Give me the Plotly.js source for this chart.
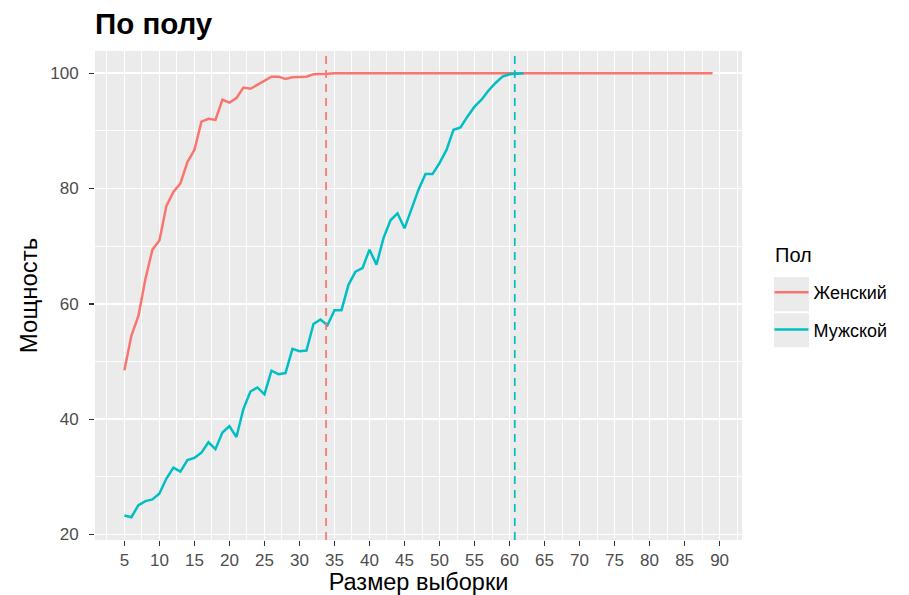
<!DOCTYPE html>
<html>
<head>
<meta charset="utf-8">
<script src="https://cdn.plot.ly/plotly-3.0.1.min.js"></script>
<style>html,body{margin:0;padding:0;background:#fff;}#chart{width:909px;height:595px;}</style>
</head>
<body>
<div id="chart"></div>
<script>
// Sample sizes and power (%) by sex
const femaleX = [5,6,7,8,9,10,11,12,13,14,15,16,17,18,19,20,21,22,23,24,25,26,27,28,29,30,31,32,33,34,35,36,37,38,39,40,41,42,43,44,45,46,47,48,49,50,51,52,53,54,55,56,57,58,59,60,61,62,63,64,65,66,67,68,69,70,71,72,73,74,75,76,77,78,79,80,81,82,83,84,85,86,87,88,89];
const femalePower = [48.5,54.5,57.9,64.3,69.4,71.0,77.0,79.4,80.9,84.6,86.7,91.6,92.1,91.9,95.4,94.9,95.7,97.5,97.3,98.0,98.8,99.4,99.4,99.0,99.3,99.4,99.4,99.8,99.8,99.9,100,100,100,100,100,100,100,100,100,100,100,100,100,100,100,100,100,100,100,100,100,100,100,100,100,100,100,100,100,100,100,100,100,100,100,100,100,100,100,100,100,100,100,100,100,100,100,100,100,100,100,100,100,100,100];
const maleX = [5,6,7,8,9,10,11,12,13,14,15,16,17,18,19,20,21,22,23,24,25,26,27,28,29,30,31,32,33,34,35,36,37,38,39,40,41,42,43,44,45,46,47,48,49,50,51,52,53,54,55,56,57,58,59,60,61,62];
const malePower = [23.3,23.0,25.1,25.8,26.1,27.1,29.7,31.6,30.9,32.9,33.3,34.2,36.0,34.8,37.7,38.8,36.9,41.8,44.8,45.5,44.3,48.4,47.8,48.0,52.2,51.8,51.9,56.5,57.3,56.3,58.9,58.9,63.3,65.6,66.2,69.4,66.8,71.4,74.5,75.7,73.1,76.5,79.8,82.5,82.5,84.4,86.7,90.2,90.6,92.5,94.2,95.4,97.0,98.3,99.4,99.8,99.9,100];
// Sample size needed (vertical reference lines)
const groups = ['Женский','Мужской'];
const requiredN = [33.8, 60.75];
const groupColors = ['#F8766D','#00BFC4'];
const xTicks = [5,10,15,20,25,30,35,40,45,50,55,60,65,70,75,80,85,90];
const yTicks = [20,40,60,80,100];

const traces = [
  {x: femaleX, y: femalePower, name: groups[0], legendgroup:'f', type:'scatter', mode:'lines', line:{color:groupColors[0], width:2.5}},
  {x: maleX, y: malePower, name: groups[1], legendgroup:'m', type:'scatter', mode:'lines', line:{color:groupColors[1], width:2.5}}
];

const shapes = requiredN.map((v,i)=>({
  type:'line', xref:'x', yref:'paper', x0:v, x1:v, y0:0, y1:1,
  line:{color:groupColors[i], width:1.7, dash:'8px,6px'}, layer:'above'
}));
// grey legend key backgrounds (ggplot style)
shapes.push({type:'rect', xref:'paper', yref:'paper', x0:1.0495, x1:1.1036, y0:0.468, y1:0.538, fillcolor:'#EBEBEB', line:{width:0}, layer:'below'});
shapes.push({type:'rect', xref:'paper', yref:'paper', x0:1.0495, x1:1.1036, y0:0.394, y1:0.4636, fillcolor:'#EBEBEB', line:{width:0}, layer:'below'});

const layout = {
  width:909, height:595,
  margin:{l:95, r:167, t:51, b:55, autoexpand:false},
  paper_bgcolor:'#FFFFFF', plot_bgcolor:'#EBEBEB',
  font:{family:'Liberation Sans, Arial, sans-serif', color:'#000'},
  title:{text:'<b>По полу</b>', x:0, xref:'paper', xanchor:'left', y:0.961, yanchor:'middle', font:{size:29.5, color:'#000'}},
  xaxis:{
    range:[0.8, 93.2], tickvals:xTicks, ticks:'outside', ticklen:5, tickcolor:'#333', tickwidth:1.3,
    showgrid:true, gridcolor:'#FFFFFF', gridwidth:1.7, zeroline:false, showline:false,
    tickfont:{size:17, color:'#4D4D4D'},
    minor:{tick0:2.5, dtick:5, showgrid:true, gridcolor:'#FFFFFF', gridwidth:0.9, ticks:''},
    title:{text:'Размер выборки', font:{size:23.5, color:'#000'}, standoff:5}
  },
  yaxis:{
    range:[19.05, 103.85], tickvals:yTicks, ticks:'outside', ticklen:5, tickcolor:'#333', tickwidth:1.3,
    showgrid:true, gridcolor:'#FFFFFF', gridwidth:1.7, zeroline:false, showline:false,
    tickfont:{size:17, color:'#4D4D4D'}, ticklabelstandoff:7,
    minor:{tick0:30, dtick:20, showgrid:true, gridcolor:'#FFFFFF', gridwidth:0.9, ticks:''},
    title:{text:'Мощность', font:{size:24, color:'#000'}, standoff:5}
  },
  legend:{
    x:1.0425, xanchor:'left', y:0.544, yanchor:'top', bgcolor:'rgba(0,0,0,0)',
    font:{size:18, color:'#000'}, tracegroupgap:11, itemwidth:34
  },
  annotations:[{text:'Пол', xref:'paper', yref:'paper', x:1.048, y:0.583, xanchor:'left', yanchor:'middle', showarrow:false, font:{size:20, color:'#000'}}],
  shapes: shapes,
  showlegend:true
};

Plotly.newPlot('chart', traces, layout, {displayModeBar:false, staticPlot:true});
</script>
</body>
</html>
